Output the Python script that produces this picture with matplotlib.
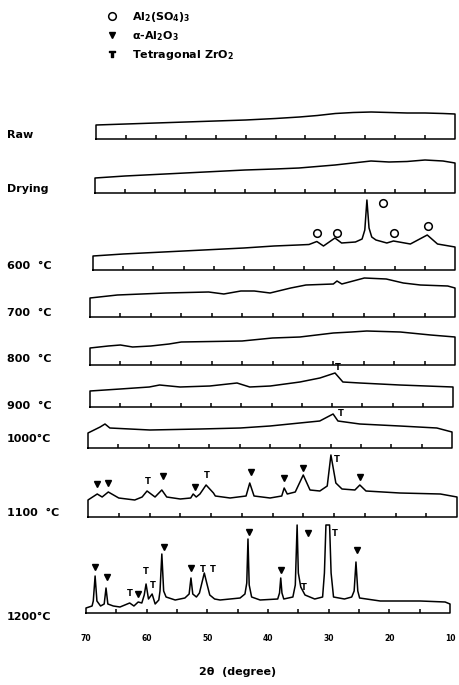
import matplotlib
matplotlib.use("Agg")
import matplotlib.pyplot as plt
from matplotlib.lines import Line2D

W, H = 459, 685

plt.rcParams['font.family'] = ['DejaVu Sans']
plt.rcParams['mathtext.fontset'] = 'dejavusans'
plt.rcParams['mathtext.default'] = 'bf'

# axis ticks (2 theta, degree)
TICK_LABELS = [70, 60, 50, 40, 30, 20, 10]
TICK_MARKS = [65, 60, 55, 50, 45, 40, 35, 30, 25, 20, 15]

# --- traces: 2theta and intensity (height above the trace baseline) ---
RAW_TT = [70, 65, 60, 55, 50, 45, 40, 36, 33, 30, 27, 24, 21, 18, 15, 12, 10]
RAW_I = [14, 15, 16, 17, 18, 19, 20.5, 22, 23.5, 25.5, 26.5, 27, 26.5, 26, 26, 25.5, 25]

DRY_TT = [70, 65, 60, 55, 50, 45, 40, 36, 33, 30, 27, 24, 21, 18, 15, 12, 10]
DRY_I = [15, 17, 18.5, 20, 21.5, 23, 24, 25, 26.5, 28, 30, 32, 31, 31.5, 33, 32, 30]

C600_TT = [70, 65, 60, 55, 50, 45, 40, 36, 34.2, 32.9, 31.8, 29.9, 28.8, 26.5, 25.4,
           24.95, 24.6, 24.25, 23.8, 23.1, 21.3, 20.2, 17.4, 14.6, 12.9, 10]
C600_I = [14, 16, 17.5, 19, 20.5, 22, 24, 25, 25.5, 28.5, 24, 32, 27, 28, 31,
          40, 70, 42, 33, 30, 27, 29, 26, 35, 26, 23]

C700_TT = [70, 65.5, 57.5, 50.5, 48, 45.2, 43, 40.4, 37, 34.5, 30, 29.4, 28.6,
           24.9, 21.3, 18.5, 15.7, 11.2, 10]
C700_I = [19, 22, 24, 25, 23, 26, 26, 24, 29, 32, 33, 36, 33, 39, 38, 34, 32, 31, 29]

C800_TT = [70, 67, 65, 63, 60, 57, 55, 50, 45, 40, 35.5, 30, 27, 24.5, 19, 14, 10]
C800_I = [17, 19, 20, 18, 19, 21, 23, 23.5, 24, 27, 28, 32, 33, 34, 33, 30, 28]

C900_TT = [70, 65, 60.2, 58.5, 55.1, 50.2, 45.7, 43.6, 40.2, 35.3, 32, 29.5, 28.2, 25.4, 18.8, 10]
C900_I = [16, 18, 20, 22, 20, 21, 24, 20, 21, 25, 29, 34, 25, 24, 22, 20]

C1000_TT = [70, 68, 67.2, 66.4, 59.8, 51.5, 44.9, 40, 35.1, 31.8, 29.6, 28.8, 25.2, 18.6, 12.5, 10]
C1000_I = [15, 21, 24, 20, 18, 19, 20, 22, 25, 27, 34, 27, 24, 22, 20, 16]

C1100_TT = [70, 68.5, 67.7, 66.7, 65, 62.4, 61.2, 60.4, 59.1, 58,
            57.2, 55, 53.3, 52.9, 52.4, 51.8, 50.8, 49.6, 49.3, 46.9,
            44.3, 43.7, 43.0, 40.4, 38.5, 38.1, 37.6, 36.3, 35.0, 33.9,
            32.3, 31.1, 30.5, 29.7, 28.7, 26.6, 25.8, 24.8, 19.3, 12.7, 10]
C1100_I = [17, 23, 20, 25, 19, 17, 20, 26, 20, 27,
           20, 18, 19, 23, 20, 23, 32, 24, 21, 19,
           21, 34, 21, 19, 21, 29, 23, 25, 42, 27,
           26, 31, 62, 34, 28, 27, 32, 26, 24, 23, 20]

C1200_TT = [70, 69, 68.8, 68.5, 68.2, 67.6, 67.0, 66.7, 66.4, 65.5,
            64.4, 62.8, 62.1, 61.4, 60.8, 60.4, 60.1, 59.7, 59.1, 58.6,
            58.0, 57.8, 57.5, 57.2, 56.8, 55.3, 53.7, 53.0, 52.7, 52.4,
            51.8, 51.3, 50.9, 50.5, 50.1, 49.6, 48.8, 47.9, 44.6, 43.8,
            43.5, 43.3, 43.1, 42.7, 41.3, 38.4, 38.1, 37.9, 37.7, 37.4,
            35.9, 35.5, 35.2, 35.0, 34.6, 33.9, 32.3, 31.0, 30.7, 30.45,
            29.85, 29.6, 29.2, 27.4, 26.2, 25.8, 25.5, 25.2, 24.9, 21.5,
            14.9, 10.8, 10]
C1200_I = [5, 7, 12, 37, 12, 7, 9, 25, 9, 7,
           6, 10, 7, 11, 10, 18, 29, 14, 19, 9,
           13, 22, 59, 22, 16, 13, 15, 19, 35, 19,
           16, 20, 30, 40, 30, 18, 14, 13, 15, 19,
           30, 74, 28, 16, 13, 14, 20, 35, 20, 14,
           16, 28, 88, 40, 26, 18, 14, 16, 40, 88,
           88, 40, 16, 14, 16, 22, 51, 22, 15, 12,
           12, 11, 9]

# --- phase markers (2theta, height above baseline) ---
O600_TT = [32.85, 29.5, 21.9, 20.1, 14.45]
O600_H = [37, 37, 67, 37, 44]

T900_TT, T900_H = [29.0], [40]
T1000_TT, T1000_H = [28.3], [34]

V1100_TT = [68.5, 66.7, 57.8, 52.6, 43.5, 38.1, 35.0, 25.8]
V1100_H = [33, 34, 41, 30, 45, 39, 49, 40]
T1100_TT = [60.2, 50.65, 29.5]
T1100_H = [35, 41, 58]

V1200_TT = [68.5, 66.6, 61.35, 57.2, 52.7, 43.15, 37.9, 33.4, 25.35]
V1200_H = [46, 36, 19, 66, 45, 81, 43, 80, 63]
T1200_TT = [62.75, 60.1, 59.0, 50.7, 49.1, 34.1, 29.0]
T1200_H = [19, 41, 28, 43, 43, 26, 80]

LABELS = ["Raw", "Drying", "600  \u00b0C", "700  \u00b0C", "800  \u00b0C",
          "900  \u00b0C", "1000\u00b0C", "1100  \u00b0C", "1200\u00b0C"]
TRACES = [(RAW_TT, RAW_I), (DRY_TT, DRY_I), (C600_TT, C600_I), (C700_TT, C700_I),
          (C800_TT, C800_I), (C900_TT, C900_I), (C1000_TT, C1000_I),
          (C1100_TT, C1100_I), (C1200_TT, C1200_I)]

# panel frames in pixels: left, right, baseline, label y
FRAMES = [(96, 455, 139, 135), (95, 455, 193, 189), (93, 455, 270, 266),
          (90, 455, 317, 313), (90, 455, 365, 359), (90, 453, 407, 406),
          (88, 452, 448, 439), (88, 457, 517, 513), (86, 450, 613, 617)]

SPAN = 100
LW = 1.1
FS = 8


def add_panel(fig, left, right, base):
    ax = fig.add_axes([left / W, 1 - base / H, (right - left) / W, SPAN / H])
    ax.set_xlim(70, 10)
    ax.set_ylim(0, SPAN)
    ax.set_facecolor('none')
    for s in ax.spines.values():
        s.set_visible(False)
    ax.set_yticks([])
    ax.set_xticks([])
    return ax


def draw_trace(ax, tt, ii):
    xs = [70] + list(tt) + [10, 70]
    ys = [0] + list(ii) + [0, 0]
    ax.plot(xs, ys, color='k', lw=LW, solid_joinstyle='round', clip_on=False)
    ax.vlines(TICK_MARKS, 0, 4, color='k', lw=LW)


def mark_v(ax, tt, hh):
    ax.plot(tt, hh, ls='none', marker='v', ms=4.5, color='k', clip_on=False)


def mark_o(ax, tt, hh):
    ax.plot(tt, hh, ls='none', marker='o', ms=5.5, mfc='white', mec='k', mew=1.1, clip_on=False)


def mark_t(ax, tt, hh):
    for t, h in zip(tt, hh):
        ax.text(t, h, 'T', ha='center', va='center', fontsize=6, fontweight='bold')


fig = plt.figure(figsize=(W / 100, H / 100), dpi=100)

axes = []
for (tt, ii), (left, right, base, ly), lab in zip(TRACES, FRAMES, LABELS):
    ax = add_panel(fig, left, right, base)
    draw_trace(ax, tt, ii)
    fig.text(7 / W, 1 - ly / H, lab, ha='left', va='center', fontsize=FS, fontweight='bold')
    axes.append(ax)

mark_o(axes[2], O600_TT, O600_H)
mark_t(axes[5], T900_TT, T900_H)
mark_t(axes[6], T1000_TT, T1000_H)
mark_v(axes[7], V1100_TT, V1100_H)
mark_t(axes[7], T1100_TT, T1100_H)
mark_v(axes[8], V1200_TT, V1200_H)
mark_t(axes[8], T1200_TT, T1200_H)

# 2theta scale under the last trace
bottom = axes[-1]
bottom.set_xticks(TICK_LABELS)
bottom.set_xticklabels([str(v) for v in TICK_LABELS], fontsize=5.5, fontweight='bold')
bottom.tick_params(axis='x', length=0, pad=15)

fig.text(238 / W, 1 - 672 / H, "2\u03b8  (degree)", ha='center', va='center',
         fontsize=8, fontweight='bold')

# phase key
handles = [
    Line2D([], [], ls='none', marker='o', ms=5.5, mfc='white', mec='k', mew=1.1),
    Line2D([], [], ls='none', marker='v', ms=4.5, color='k'),
    Line2D([], [], ls='none', marker='$T$', ms=5, color='k'),
]
names = ["Al$_2$(SO$_4$)$_3$", "\u03b1-Al$_2$O$_3$", "Tetragonal ZrO$_2$"]
leg = fig.legend(handles, names, loc='upper left', bbox_to_anchor=(96.5 / W, 1.0),
                 frameon=False, labelspacing=0.45, handletextpad=1.3, handlelength=1.0,
                 prop={'size': FS, 'weight': 'bold'})

fig.savefig("out.png", dpi=100)
